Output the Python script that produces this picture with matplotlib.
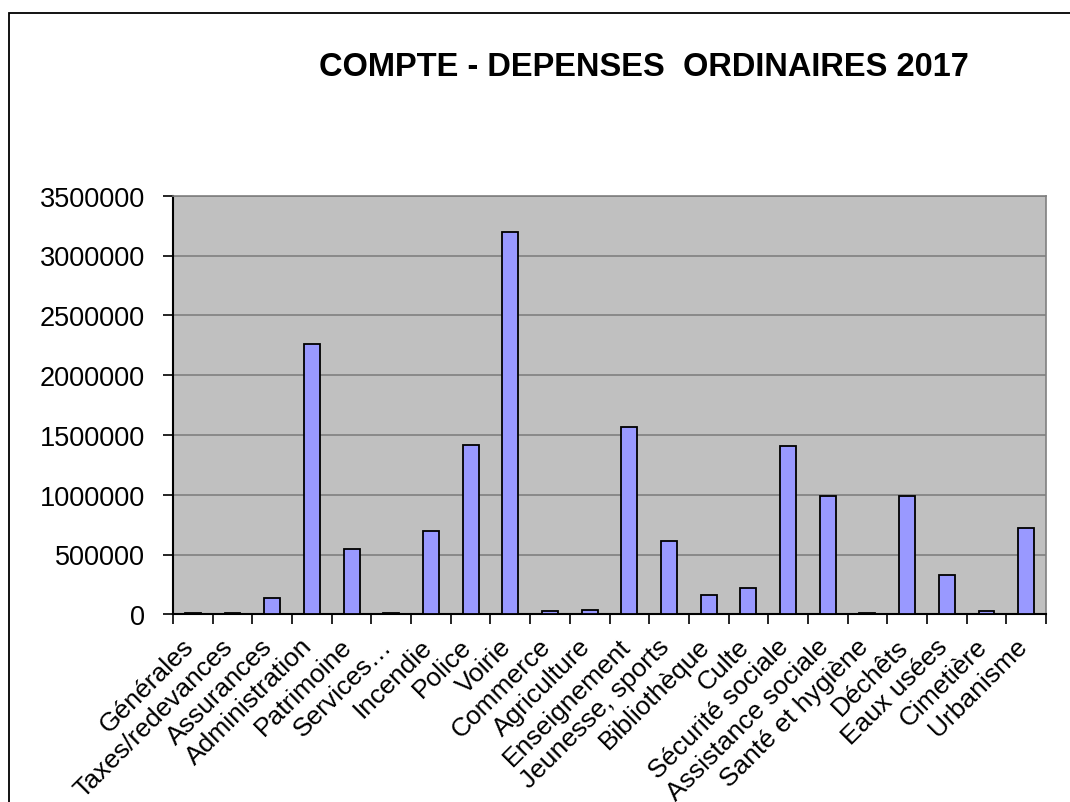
import numpy as np
import matplotlib
matplotlib.use('Agg')
import matplotlib.pyplot as plt
import matplotlib.transforms as mtransforms
from matplotlib.patches import Rectangle
from matplotlib.ticker import MultipleLocator, FixedLocator

plt.rcParams['font.family'] = ['Liberation Sans', 'DejaVu Sans']

categories = ['Générales', 'Taxes/redevances', 'Assurances', 'Administration',
              'Patrimoine', 'Services…', 'Incendie', 'Police', 'Voirie',
              'Commerce', 'Agriculture', 'Enseignement', 'Jeunesse, sports',
              'Bibliothèque', 'Culte', 'Sécurité sociale', 'Assistance sociale',
              'Santé et hygiène', 'Déchêts', 'Eaux usées', 'Cimetière', 'Urbanisme']
depenses = [12000, 10000, 137000, 2260000, 543000, 10000, 697000, 1419000, 3194000,
            25000, 39000, 1563000, 616000, 164000, 223000, 1410000, 987000,
            12000, 987000, 332000, 25000, 722000]

fig = plt.figure(figsize=(10.7, 8.03), dpi=100)
# chart border
fig.patches.append(Rectangle((9/1070, -0.1), 1.1, 1.1 - 14/803, transform=fig.transFigure,
                             fill=False, edgecolor='black', linewidth=1.3))

ax = fig.add_axes([173/1070, (803-615.3)/803, 873/1070, 418.6/803])
x = np.arange(len(categories))
ax.bar(x, depenses, width=0.4, color='#9999FF', edgecolor='black', linewidth=1.3, zorder=3)

ax.set_facecolor('#C0C0C0')
ax.set_xlim(-0.5, len(categories) - 0.5)
ax.set_ylim(0, 3500000)
ax.yaxis.set_major_locator(MultipleLocator(500000))
ax.yaxis.set_major_formatter(matplotlib.ticker.FuncFormatter(lambda v, p: f'{int(v)}'))
ax.grid(axis='y', color='#808080', linewidth=1.2, zorder=0)
ax.set_axisbelow(True)

ax.set_xticks(x)
ax.set_xticklabels(categories, rotation=45, ha='right', va='center',
                   rotation_mode='anchor', fontsize=19)
ax.tick_params(axis='x', which='major', length=0, pad=20)
shift = mtransforms.ScaledTranslation(-3/100, 0, fig.dpi_scale_trans)
for lbl in ax.get_xticklabels():
    lbl.set_transform(lbl.get_transform() + shift)
ax.xaxis.set_minor_locator(FixedLocator(np.arange(-0.5, len(categories), 1)))
ax.tick_params(axis='x', which='minor', length=7, width=1.2, direction='out')
ax.tick_params(axis='y', length=7, width=1.2, direction='out', labelsize=19.5, pad=13)

for s in ['top', 'right']:
    ax.spines[s].set_color('#808080')
    ax.spines[s].set_linewidth(1.2)
for s in ['left', 'bottom']:
    ax.spines[s].set_color('black')
    ax.spines[s].set_linewidth(1.5)

fig.text(644/1070, 1 - 68/803, 'COMPTE - DEPENSES  ORDINAIRES 2017', ha='center', va='center',
         fontsize=23.5, fontweight='bold')

fig.savefig('out.png', dpi=100)
